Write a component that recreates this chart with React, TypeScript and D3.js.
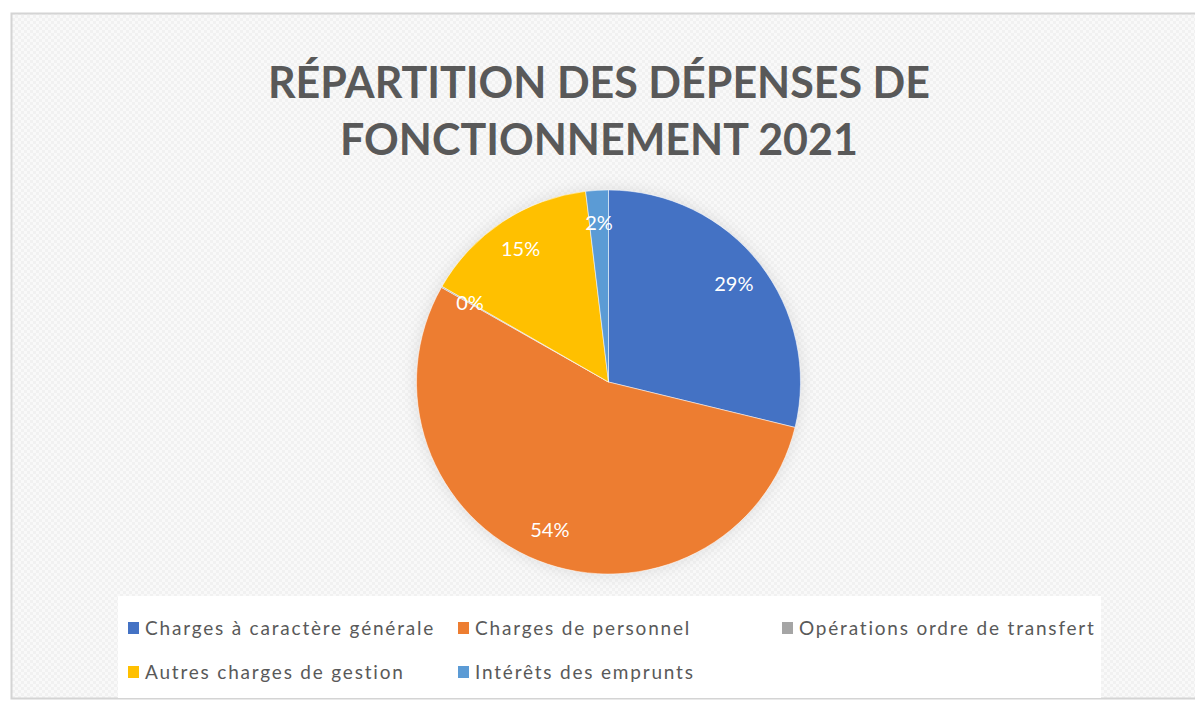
import React, { useEffect, useRef } from 'react';
import * as d3 from 'd3';

// chart data
const categories = [
  'Charges à caractère générale',
  'Charges de personnel',
  'Opérations ordre de transfert',
  'Autres charges de gestion',
  'Intérêts des emprunts',
];
const values = [28.8, 54.4, 0.1, 14.8, 1.9];
const labels = ['29%', '54%', '0%', '15%', '2%'];
const colors = ['#4472C4', '#ED7D31', '#A5A5A5', '#FFC000', '#5B9BD5'];
const titleLines = ['RÉPARTITION DES DÉPENSES DE', 'FONCTIONNEMENT 2021'];

const W = 1195;
const H = 702;

const App = () => {
  const anchor = useRef<SVGSVGElement>(null);

  useEffect(() => {
    const svg = d3.select(anchor.current);
    svg.selectAll('*').remove();

    const defs = svg.append('defs');
    // checker texture of the chart area
    const pat = defs.append('pattern')
      .attr('id', 'checker')
      .attr('width', 6).attr('height', 6)
      .attr('patternUnits', 'userSpaceOnUse');
    pat.append('rect').attr('width', 6).attr('height', 6).attr('fill', '#f9f9f9');
    pat.append('rect').attr('width', 3).attr('height', 3).attr('fill', '#f1f1f1');
    pat.append('rect').attr('x', 3).attr('y', 3).attr('width', 3).attr('height', 3).attr('fill', '#f1f1f1');

    const glow = defs.append('filter').attr('id', 'glow')
      .attr('x', '-20%').attr('y', '-20%').attr('width', '140%').attr('height', '140%');
    glow.append('feGaussianBlur').attr('in', 'SourceAlpha').attr('stdDeviation', 8).attr('result', 'b');
    glow.append('feFlood').attr('flood-color', '#c8c8c8').attr('flood-opacity', 0.6);
    glow.append('feComposite').attr('in2', 'b').attr('operator', 'in').attr('result', 's');
    const merge = glow.append('feMerge');
    merge.append('feMergeNode').attr('in', 's');
    merge.append('feMergeNode').attr('in', 'SourceGraphic');

    svg.append('rect').attr('width', W).attr('height', H).attr('fill', '#ffffff');
    svg.append('rect')
      .attr('x', 11.5).attr('y', 13.5)
      .attr('width', W + 10).attr('height', 685)
      .attr('fill', 'url(#checker)')
      .attr('stroke', '#d4d4d4').attr('stroke-width', 2);

    // title
    svg.append('g').selectAll('text')
      .data(titleLines)
      .enter().append('text')
      .attr('x', 599)
      .attr('y', (d, i) => 98 + i * 57)
      .attr('text-anchor', 'middle')
      .attr('font-family', 'Lato, sans-serif')
      .attr('font-weight', 700)
      .attr('font-size', 43)
      .attr('fill', '#595959')
      .text((d) => d);

    // pie
    const cx = 608.5, cy = 382, r = 192;
    const pie = d3.pie<number>().sort(null).value((d) => d);
    const arc = d3.arc<d3.PieArcDatum<number>>().innerRadius(0).outerRadius(r);
    const labelArc = d3.arc<d3.PieArcDatum<number>>().innerRadius(r * 0.83).outerRadius(r * 0.83);
    const arcs = pie(values);

    const g = svg.append('g').attr('transform', 'translate(' + cx + ' ' + cy + ')');
    g.append('circle').attr('r', r).attr('fill', '#ffffff').attr('filter', 'url(#glow)');
    g.selectAll('.arc')
      .data(arcs)
      .enter().append('path')
      .attr('class', 'arc')
      .attr('d', arc)
      .attr('fill', (d, i) => colors[i])
      .attr('stroke', '#ffffff')
      .attr('stroke-opacity', 0.5)
      .attr('stroke-width', 1);

    g.selectAll('.lbl')
      .data(arcs)
      .enter().append('text')
      .attr('class', 'lbl')
      .attr('transform', (d) => 'translate(' + labelArc.centroid(d) + ')')
      .attr('text-anchor', 'middle')
      .attr('dy', '0.35em')
      .attr('font-family', 'Lato, sans-serif')
      .attr('font-size', 20)
      .attr('fill', '#ffffff')
      .text((d, i) => labels[i]);

    // legend
    svg.append('rect')
      .attr('x', 118).attr('y', 596)
      .attr('width', 983).attr('height', 102)
      .attr('fill', '#ffffff');

    const colX = [128, 458, 782];
    const rowY = [628, 672];
    const items = svg.append('g').selectAll('g')
      .data(categories)
      .enter().append('g')
      .attr('transform', (d, i) => 'translate(' + colX[i < 3 ? i : i - 3] + ' ' + rowY[i < 3 ? 0 : 1] + ')');
    items.append('rect')
      .attr('x', 0).attr('y', -6)
      .attr('width', 11).attr('height', 12)
      .attr('fill', (d, i) => colors[i]);
    items.append('text')
      .attr('x', 17).attr('dy', '0.35em')
      .attr('font-family', 'Lato, sans-serif')
      .attr('font-size', 19)
      .attr('letter-spacing', 1.8)
      .attr('fill', '#595959')
      .text((d) => d);
  }, []);

  return <svg ref={anchor} width={W} height={H}
    style={{ position: 'absolute', left: 0, top: 0, display: 'block' }} />;
};

export default App;
